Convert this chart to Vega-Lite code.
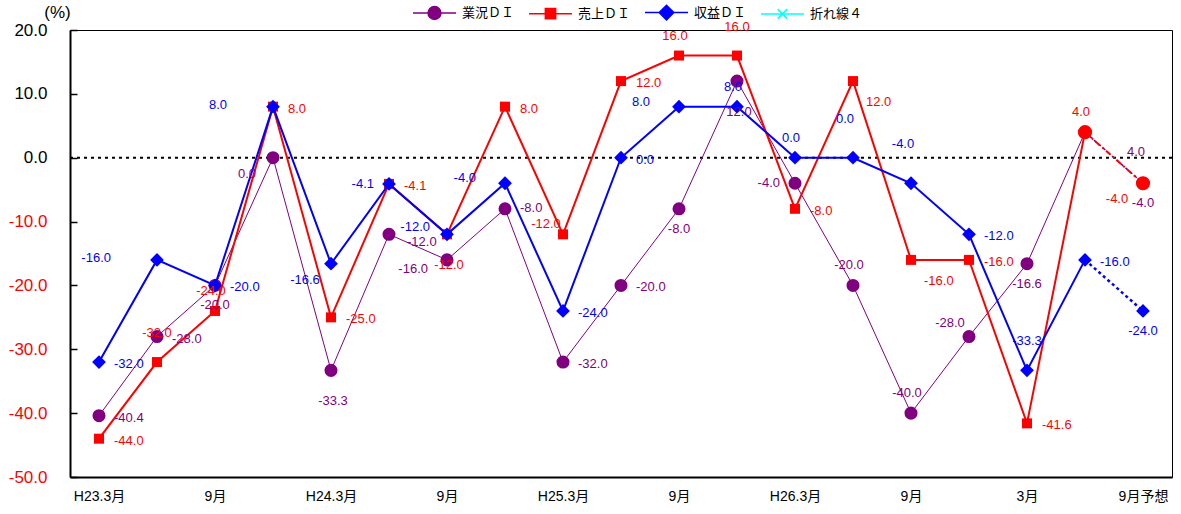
{
  "$schema": "https://vega.github.io/schema/vega-lite/v6.json",
  "width": 1102,
  "height": 447,
  "autosize": {"type": "none"},
  "padding": {"left": 70, "top": 30, "right": 9, "bottom": 37},
  "config": {
    "locale": {"number": {"decimal": ".", "thousands": ",", "grouping": [3], "currency": ["", ""], "minus": "-"}},
    "view": {"stroke": "#000000", "strokeWidth": 1},
    "font": "Liberation Sans",
    "axis": {"grid": false}
  },
  "layer": [
    {
      "data": {"values": [{"z": 0}]},
      "mark": {"type": "rule", "strokeDash": [3, 4], "strokeWidth": 2, "color": "#000000"},
      "encoding": {
        "y": {
          "field": "z", "type": "quantitative",
          "scale": {"domain": [-50, 20], "nice": false, "zero": false},
          "title": "(%)",
          "axis": {
            "values": [-50, -40, -30, -20, -10, 0, 10, 20],
            "labelExpr": "replace(format(datum.value, '.1f'), '−', '-')",
            "labelColor": {"expr": "datum.value < 0 ? '#FF0000' : '#000000'"},
            "labelFontSize": 17, "labelFont": "Liberation Sans", "labelPadding": 30,
            "tickSize": -7, "tickColor": "#000000", "tickWidth": 1.5,
            "domainColor": "#000000", "domainWidth": 2, "grid": false,
            "titleAngle": 0, "titleX": -13, "titleY": -18, "titleFontSize": 17,
            "titleFontWeight": "normal", "titleAlign": "center", "titleBaseline": "middle",
            "titleFont": "Liberation Sans", "titleColor": "#000000"
          }
        }
      }
    },
    {
      "data": {"values": [
        {"t": "H23.3", "series": "業況ＤＩ", "v": -40.4},
        {"t": "H23.6", "series": "業況ＤＩ", "v": -28.0},
        {"t": "H23.9", "series": "業況ＤＩ", "v": -20.0},
        {"t": "H23.12", "series": "業況ＤＩ", "v": 0.0},
        {"t": "H24.3", "series": "業況ＤＩ", "v": -33.3},
        {"t": "H24.6", "series": "業況ＤＩ", "v": -12.0},
        {"t": "H24.9", "series": "業況ＤＩ", "v": -16.0},
        {"t": "H24.12", "series": "業況ＤＩ", "v": -8.0},
        {"t": "H25.3", "series": "業況ＤＩ", "v": -32.0},
        {"t": "H25.6", "series": "業況ＤＩ", "v": -20.0},
        {"t": "H25.9", "series": "業況ＤＩ", "v": -8.0},
        {"t": "H25.12", "series": "業況ＤＩ", "v": 12.0},
        {"t": "H26.3", "series": "業況ＤＩ", "v": -4.0},
        {"t": "H26.6", "series": "業況ＤＩ", "v": -20.0},
        {"t": "H26.9", "series": "業況ＤＩ", "v": -40.0},
        {"t": "H26.12", "series": "業況ＤＩ", "v": -28.0},
        {"t": "H27.3", "series": "業況ＤＩ", "v": -16.6},
        {"t": "H27.6", "series": "業況ＤＩ", "v": 4.0},
        {"t": "H27.9予想", "series": "業況ＤＩ", "v": -4.0},
        {"t": "H23.3", "series": "売上ＤＩ", "v": -44.0},
        {"t": "H23.6", "series": "売上ＤＩ", "v": -32.0},
        {"t": "H23.9", "series": "売上ＤＩ", "v": -24.0},
        {"t": "H23.12", "series": "売上ＤＩ", "v": 8.0},
        {"t": "H24.3", "series": "売上ＤＩ", "v": -25.0},
        {"t": "H24.6", "series": "売上ＤＩ", "v": -4.1},
        {"t": "H24.9", "series": "売上ＤＩ", "v": -12.0},
        {"t": "H24.12", "series": "売上ＤＩ", "v": 8.0},
        {"t": "H25.3", "series": "売上ＤＩ", "v": -12.0},
        {"t": "H25.6", "series": "売上ＤＩ", "v": 12.0},
        {"t": "H25.9", "series": "売上ＤＩ", "v": 16.0},
        {"t": "H25.12", "series": "売上ＤＩ", "v": 16.0},
        {"t": "H26.3", "series": "売上ＤＩ", "v": -8.0},
        {"t": "H26.6", "series": "売上ＤＩ", "v": 12.0},
        {"t": "H26.9", "series": "売上ＤＩ", "v": -16.0},
        {"t": "H26.12", "series": "売上ＤＩ", "v": -16.0},
        {"t": "H27.3", "series": "売上ＤＩ", "v": -41.6},
        {"t": "H27.6", "series": "売上ＤＩ", "v": 4.0},
        {"t": "H27.9予想", "series": "売上ＤＩ", "v": -4.0},
        {"t": "H23.3", "series": "収益ＤＩ", "v": -32.0},
        {"t": "H23.6", "series": "収益ＤＩ", "v": -16.0},
        {"t": "H23.9", "series": "収益ＤＩ", "v": -20.0},
        {"t": "H23.12", "series": "収益ＤＩ", "v": 8.0},
        {"t": "H24.3", "series": "収益ＤＩ", "v": -16.6},
        {"t": "H24.6", "series": "収益ＤＩ", "v": -4.1},
        {"t": "H24.9", "series": "収益ＤＩ", "v": -12.0},
        {"t": "H24.12", "series": "収益ＤＩ", "v": -4.0},
        {"t": "H25.3", "series": "収益ＤＩ", "v": -24.0},
        {"t": "H25.6", "series": "収益ＤＩ", "v": 0.0},
        {"t": "H25.9", "series": "収益ＤＩ", "v": 8.0},
        {"t": "H25.12", "series": "収益ＤＩ", "v": 8.0},
        {"t": "H26.3", "series": "収益ＤＩ", "v": 0.0},
        {"t": "H26.6", "series": "収益ＤＩ", "v": 0.0},
        {"t": "H26.9", "series": "収益ＤＩ", "v": -4.0},
        {"t": "H26.12", "series": "収益ＤＩ", "v": -12.0},
        {"t": "H27.3", "series": "収益ＤＩ", "v": -33.3},
        {"t": "H27.6", "series": "収益ＤＩ", "v": -16.0},
        {"t": "H27.9予想", "series": "収益ＤＩ", "v": -24.0}
      ]},
      "encoding": {
        "x": {
          "field": "t", "type": "ordinal", "title": null,
          "scale": {"type": "point", "padding": 0.5, "domain": ["H23.3","H23.6","H23.9","H23.12","H24.3","H24.6","H24.9","H24.12","H25.3","H25.6","H25.9","H25.12","H26.3","H26.6","H26.9","H26.12","H27.3","H27.6","H27.9予想"]},
          "axis": {
            "labelExpr": "indexof(['H23.3','H24.3','H25.3','H26.3'], datum.value) >= 0 ? datum.value + '月' : indexof(['H23.9','H24.9','H25.9','H26.9'], datum.value) >= 0 ? '9月' : datum.value == 'H27.3' ? '3月' : datum.value == 'H27.9予想' ? '9月予想' : ''",
            "ticks": false, "domainColor": "#000000", "domainWidth": 2,
            "labelFontSize": 14, "labelFont": "Liberation Sans, Noto Sans CJK JP", "labelColor": "#000000",
            "labelPadding": 12, "labelAngle": 0, "labelOverlap": false, "labelFlush": false, "grid": false
          }
        },
        "y": {"field": "v", "type": "quantitative", "title": "(%)"},
        "color": {
          "field": "series", "type": "nominal",
          "scale": {"domain": ["業況ＤＩ", "売上ＤＩ", "収益ＤＩ", "折れ線４"], "range": ["#800080", "#FF0000", "#0000FF", "#00FFFF"]},
          "legend": {
            "orient": "none", "legendX": 342, "legendY": -40, "direction": "horizontal", "title": null,
            "symbolSize": 1849, "symbolStrokeWidth": 1.5,
            "labelFont": "Noto Sans CJK JP", "labelFontSize": 13, "labelColor": "#000000",
            "labelOffset": 5, "columnPadding": 11, "padding": 0,
            "encode": {"symbols": {"update": {
              "shape": {"signal": "datum.value == '業況ＤＩ' ? 'M-1,0H1M-0.3,0A0.3,0.3,0,1,1,0.3,0A0.3,0.3,0,1,1,-0.3,0Z' : datum.value == '売上ＤＩ' ? 'M-1,0H1M-0.24,-0.24H0.24V0.24H-0.24Z' : datum.value == '収益ＤＩ' ? 'M-1,0H1M-0.34,0L0,-0.34L0.34,0L0,0.34Z' : 'M-1,0H1M-0.22,-0.22L0.22,0.22M-0.22,0.22L0.22,-0.22'"},
              "fill": {"scale": "color", "field": "value"},
              "stroke": {"scale": "color", "field": "value"},
              "strokeWidth": {"value": 1.5},
              "opacity": {"value": 1}
            }}}
          }
        }
      },
      "layer": [
        {"transform": [{"filter": "datum.series == '業況ＤＩ' && datum.t != 'H27.9予想'"}], "mark": {"type": "line", "strokeWidth": 1}},
        {"transform": [{"filter": "datum.series == '業況ＤＩ' && (datum.t == 'H27.6' || datum.t == 'H27.9予想')"}], "mark": {"type": "line", "strokeWidth": 1.5, "strokeDash": [3, 3]}},
        {"transform": [{"filter": "datum.series == '業況ＤＩ'"}], "mark": {"type": "point", "shape": "circle", "filled": true, "size": 170, "opacity": 1}},
        {"transform": [{"filter": "datum.series == '売上ＤＩ' && datum.t != 'H27.9予想'"}], "mark": {"type": "line", "strokeWidth": 2}},
        {"transform": [{"filter": "datum.series == '売上ＤＩ' && (datum.t == 'H27.6' || datum.t == 'H27.9予想')"}], "mark": {"type": "line", "strokeWidth": 2, "strokeDash": [6, 3, 2, 3]}},
        {"transform": [{"filter": "datum.series == '売上ＤＩ' && datum.t != 'H27.6' && datum.t != 'H27.9予想'"}], "mark": {"type": "point", "shape": "square", "filled": true, "size": 100, "opacity": 1}},
        {"transform": [{"filter": "datum.series == '売上ＤＩ' && (datum.t == 'H27.6' || datum.t == 'H27.9予想')"}], "mark": {"type": "point", "shape": "circle", "filled": true, "size": 200, "opacity": 1}},
        {"transform": [{"filter": "datum.series == '収益ＤＩ' && datum.t != 'H27.9予想'"}], "mark": {"type": "line", "strokeWidth": 2}},
        {"transform": [{"filter": "datum.series == '収益ＤＩ' && (datum.t == 'H27.6' || datum.t == 'H27.9予想')"}], "mark": {"type": "line", "strokeWidth": 2.5, "strokeDash": [3, 3]}},
        {"transform": [{"filter": "datum.series == '収益ＤＩ'"}], "mark": {"type": "point", "shape": "diamond", "filled": true, "size": 190, "opacity": 1}},
        {"transform": [{"filter": "indexof(['業H23.3','業H23.6','業H25.3','業H25.6','売H23.3','売H23.12','売H24.3','売H24.6','売H24.12','売H25.6','売H26.3','売H26.12','売H27.3','収H23.3','収H23.9','収H25.3','収H25.6','収H26.12','収H27.6'], substring(datum.series,0,1) + datum.t) >= 0"}],
         "mark": {"type": "text", "align": "left", "baseline": "middle", "dx": 15, "dy": 2, "fontSize": 13, "font": "Liberation Sans"},
         "encoding": {"text": {"field": "v", "type": "quantitative", "format": ".1f"}}},
        {"transform": [{"filter": "indexof(['業H24.12'], substring(datum.series,0,1) + datum.t) >= 0"}],
         "mark": {"type": "text", "align": "left", "baseline": "middle", "dx": 15, "dy": -1, "fontSize": 13, "font": "Liberation Sans"},
         "encoding": {"text": {"field": "v", "type": "quantitative", "format": ".1f"}}},
        {"transform": [{"filter": "indexof(['業H24.6'], substring(datum.series,0,1) + datum.t) >= 0"}],
         "mark": {"type": "text", "align": "left", "baseline": "middle", "dx": 18, "dy": 8, "fontSize": 13, "font": "Liberation Sans"},
         "encoding": {"text": {"field": "v", "type": "quantitative", "format": ".1f"}}},
        {"transform": [{"filter": "indexof(['業H23.9','業H25.9','業H27.3','業H27.9予想','収H27.9予想'], substring(datum.series,0,1) + datum.t) >= 0"}],
         "mark": {"type": "text", "align": "center", "baseline": "middle", "dx": 0, "dy": 20, "fontSize": 13, "font": "Liberation Sans"},
         "encoding": {"text": {"field": "v", "type": "quantitative", "format": ".1f"}}},
        {"transform": [{"filter": "indexof(['業H24.3','業H25.12','売H24.9'], substring(datum.series,0,1) + datum.t) >= 0"}],
         "mark": {"type": "text", "align": "center", "baseline": "middle", "dx": 2, "dy": 31, "fontSize": 13, "font": "Liberation Sans"},
         "encoding": {"text": {"field": "v", "type": "quantitative", "format": ".1f"}}},
        {"transform": [{"filter": "indexof(['業H26.6','業H26.9','売H23.9','売H25.9','売H27.6','収H25.12','収H26.3'], substring(datum.series,0,1) + datum.t) >= 0"}],
         "mark": {"type": "text", "align": "center", "baseline": "middle", "dx": -4, "dy": -20, "fontSize": 13, "font": "Liberation Sans"},
         "encoding": {"text": {"field": "v", "type": "quantitative", "format": ".1f"}}},
        {"transform": [{"filter": "indexof(['売H23.6','売H25.12','収H27.3'], substring(datum.series,0,1) + datum.t) >= 0"}],
         "mark": {"type": "text", "align": "center", "baseline": "middle", "dx": 0, "dy": -29, "fontSize": 13, "font": "Liberation Sans"},
         "encoding": {"text": {"field": "v", "type": "quantitative", "format": ".1f"}}},
        {"transform": [{"filter": "indexof(['収H26.6','収H26.9'], substring(datum.series,0,1) + datum.t) >= 0"}],
         "mark": {"type": "text", "align": "center", "baseline": "middle", "dx": -8, "dy": -39, "fontSize": 13, "font": "Liberation Sans"},
         "encoding": {"text": {"field": "v", "type": "quantitative", "format": ".1f"}}},
        {"transform": [{"filter": "indexof(['業H26.3','収H24.6'], substring(datum.series,0,1) + datum.t) >= 0"}],
         "mark": {"type": "text", "align": "right", "baseline": "middle", "dx": -15, "dy": 0, "fontSize": 13, "font": "Liberation Sans"},
         "encoding": {"text": {"field": "v", "type": "quantitative", "format": ".1f"}}},
        {"transform": [{"filter": "indexof(['業H24.9'], substring(datum.series,0,1) + datum.t) >= 0"}],
         "mark": {"type": "text", "align": "right", "baseline": "middle", "dx": -19, "dy": 9, "fontSize": 13, "font": "Liberation Sans"},
         "encoding": {"text": {"field": "v", "type": "quantitative", "format": ".1f"}}},
        {"transform": [{"filter": "indexof(['収H24.9'], substring(datum.series,0,1) + datum.t) >= 0"}],
         "mark": {"type": "text", "align": "right", "baseline": "middle", "dx": -17, "dy": -7, "fontSize": 13, "font": "Liberation Sans"},
         "encoding": {"text": {"field": "v", "type": "quantitative", "format": ".1f"}}},
        {"transform": [{"filter": "indexof(['収H24.12','収H25.9'], substring(datum.series,0,1) + datum.t) >= 0"}],
         "mark": {"type": "text", "align": "right", "baseline": "middle", "dx": -29, "dy": -5, "fontSize": 13, "font": "Liberation Sans"},
         "encoding": {"text": {"field": "v", "type": "quantitative", "format": ".1f"}}},
        {"transform": [{"filter": "indexof(['収H23.6','収H23.12'], substring(datum.series,0,1) + datum.t) >= 0"}],
         "mark": {"type": "text", "align": "right", "baseline": "middle", "dx": -46, "dy": -2, "fontSize": 13, "font": "Liberation Sans"},
         "encoding": {"text": {"field": "v", "type": "quantitative", "format": ".1f"}}},
        {"transform": [{"filter": "indexof(['業H23.12','収H24.3','売H27.9予想'], substring(datum.series,0,1) + datum.t) >= 0"}],
         "mark": {"type": "text", "align": "center", "baseline": "middle", "dx": -26, "dy": 16, "fontSize": 13, "font": "Liberation Sans"},
         "encoding": {"text": {"field": "v", "type": "quantitative", "format": ".1f"}}},
        {"transform": [{"filter": "indexof(['業H26.12'], substring(datum.series,0,1) + datum.t) >= 0"}],
         "mark": {"type": "text", "align": "center", "baseline": "middle", "dx": -19, "dy": -14, "fontSize": 13, "font": "Liberation Sans"},
         "encoding": {"text": {"field": "v", "type": "quantitative", "format": ".1f"}}},
        {"transform": [{"filter": "indexof(['売H25.3'], substring(datum.series,0,1) + datum.t) >= 0"}],
         "mark": {"type": "text", "align": "center", "baseline": "middle", "dx": -17, "dy": -10, "fontSize": 13, "font": "Liberation Sans"},
         "encoding": {"text": {"field": "v", "type": "quantitative", "format": ".1f"}}},
        {"transform": [{"filter": "indexof(['売H26.6','売H26.9'], substring(datum.series,0,1) + datum.t) >= 0"}],
         "mark": {"type": "text", "align": "left", "baseline": "middle", "dx": 13, "dy": 21, "fontSize": 13, "font": "Liberation Sans"},
         "encoding": {"text": {"field": "v", "type": "quantitative", "format": ".1f"}}},
        {"transform": [{"filter": "indexof(['業H27.6'], substring(datum.series,0,1) + datum.t) >= 0"}],
         "mark": {"type": "text", "align": "left", "baseline": "middle", "dx": 42, "dy": 20, "fontSize": 13, "font": "Liberation Sans"},
         "encoding": {"text": {"field": "v", "type": "quantitative", "format": ".1f"}}}
      ]
    }
  ]
}
